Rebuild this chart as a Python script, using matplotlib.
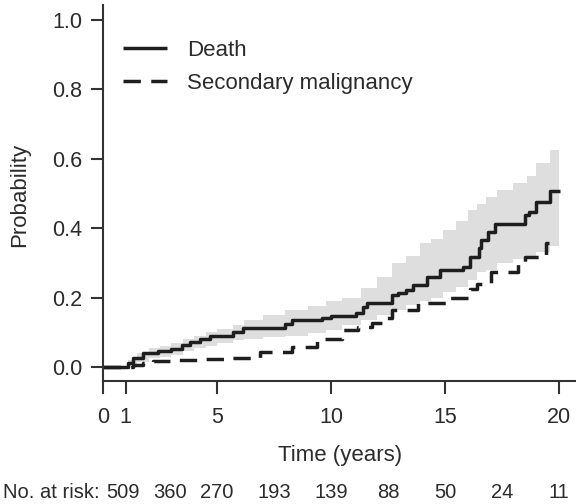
import matplotlib
matplotlib.use("Agg")
import matplotlib.pyplot as plt
import matplotlib.transforms as mtransforms
from matplotlib.ticker import FormatStrFormatter

plt.rcParams['font.family'] = ['Liberation Sans', 'DejaVu Sans']

# ---- data ----
death_t = [0, 1.1, 1.3, 1.75, 2.4, 3.0, 3.45, 3.8, 4.25, 4.7, 5.7, 6.15, 8.0, 8.3,
           9.6, 10.0, 11.1, 11.4, 11.6, 12.7, 12.95, 13.3, 13.6, 14.2, 14.8, 15.8,
           16.1, 16.5, 16.6, 16.9, 17.2, 18.5, 18.7, 19.0, 19.6, 20.05]
death_p = [0, 0.013, 0.026, 0.040, 0.046, 0.052, 0.063, 0.072, 0.080, 0.089, 0.100,
           0.112, 0.125, 0.135, 0.141, 0.147, 0.156, 0.173, 0.184, 0.207, 0.213,
           0.222, 0.236, 0.260, 0.280, 0.288, 0.317, 0.343, 0.366, 0.390, 0.413,
           0.438, 0.447, 0.476, 0.507, 0.507]

ci_t = [1.1, 1.5, 2.0, 2.5, 3.0, 3.5, 4.0, 4.5, 5.0, 5.7, 6.2, 7.0, 8.0, 9.0, 9.8,
        10.5, 11.3, 12.0, 12.7, 13.3, 13.9, 14.4, 14.9, 15.5, 16.0, 16.4, 16.8,
        17.3, 18.0, 18.6, 19.0, 19.6, 20.0]
ci_upper = [0.02, 0.04, 0.055, 0.06, 0.068, 0.08, 0.09, 0.10, 0.11, 0.121, 0.135,
            0.15, 0.165, 0.175, 0.19, 0.20, 0.228, 0.26, 0.30, 0.32, 0.357, 0.37,
            0.395, 0.42, 0.452, 0.47, 0.49, 0.51, 0.53, 0.55, 0.588, 0.625, 0.625]
ci_lower = [0.005, 0.015, 0.025, 0.03, 0.035, 0.045, 0.055, 0.06, 0.068, 0.078,
            0.082, 0.086, 0.09, 0.098, 0.107, 0.121, 0.135, 0.15, 0.165, 0.18,
            0.19, 0.20, 0.215, 0.23, 0.25, 0.274, 0.28, 0.30, 0.31, 0.314, 0.33,
            0.35, 0.35]

sec_t = [0, 1.3, 1.75, 2.2, 3.0, 4.3, 5.6, 6.9, 8.3, 9.4, 10.5, 11.2, 11.8, 12.3,
         12.7, 13.8, 15.2, 16.1, 16.4, 17.0, 18.2, 18.5, 19.3, 19.45, 19.55]
sec_p = [0, 0.006, 0.012, 0.016, 0.019, 0.023, 0.026, 0.043, 0.058, 0.080, 0.107,
         0.115, 0.127, 0.140, 0.164, 0.184, 0.199, 0.225, 0.240, 0.274, 0.300,
         0.317, 0.323, 0.357, 0.357]

series_labels = ["Death", "Secondary malignancy"]
x_ticks = [0, 1, 5, 10, 15, 20]
y_ticks = [0.0, 0.2, 0.4, 0.6, 0.8, 1.0]
risk_times = [0, 2.5, 5, 7.5, 10, 12.5, 15, 17.5, 20]
risk_counts = [509, 360, 270, 193, 139, 88, 50, 24, 11]

# ---- style ----
W, H = 576, 504
fig = plt.figure(figsize=(W / 100, H / 100), dpi=100)
ax = fig.add_axes([103 / W, 1 - 5 / H - 376 / H, 473 / W, 376 / H])

line_col = '#1e1e1e'
txt_col = '#2b2b2b'
band_col = '#dedede'

ax.fill_between(ci_t, ci_lower, ci_upper, step='post', color=band_col, lw=0)
ax.step(death_t, death_p, where='post', color=line_col, lw=2.5,
        label=series_labels[0], solid_capstyle='butt')
ax.step(sec_t, sec_p, where='post', color=line_col, lw=2.5,
        linestyle=(0, (5.0, 3.0)), label=series_labels[1])

ax.set_xlim(0, 20.75)
ax.set_ylim(-0.0403, 1.043)

for s in ['top', 'right']:
    ax.spines[s].set_visible(False)
for s in ['left', 'bottom']:
    ax.spines[s].set_linewidth(1.5)
    ax.spines[s].set_color('#333333')

ax.set_xticks(x_ticks)
ax.set_yticks(y_ticks)
ax.yaxis.set_major_formatter(FormatStrFormatter('%.1f'))
ax.tick_params(axis='both', length=9, width=1.5, color='#333333',
               labelsize=15.5, labelcolor=txt_col)
ax.tick_params(axis='y', pad=6)
ax.tick_params(axis='x', pad=10)

leg = ax.legend(loc='upper left', bbox_to_anchor=(123 / W, 1 - 40 / H),
                bbox_transform=fig.transFigure, frameon=False, fontsize=16,
                handlelength=2.0, handletextpad=0.9, labelspacing=0.52,
                borderaxespad=0, borderpad=0)
for t in leg.get_texts():
    t.set_color(txt_col)

fig.text(20 / W, 1 - 195 / H, "Probability", rotation=90, ha='center',
         va='center', fontsize=16, color=txt_col)
fig.text(340 / W, 1 - 456 / H, "Time (years)", ha='center', va='center',
         fontsize=16, color=txt_col)

trans = mtransforms.blended_transform_factory(ax.transData, fig.transFigure)
fig.text(100 / W, 1 - 492 / H, "No. at risk:", ha='right', va='center',
         fontsize=14.5, color=txt_col)
nudges = [20, 10, 0, 0, 0, 0, 0, 0, 0]
for t, n, dx in zip(risk_times, risk_counts, nudges):
    ax.annotate(str(n), xy=(t, 1 - 492 / H), xycoords=trans,
                xytext=(dx * 0.72, 0), textcoords='offset points',
                ha='center', va='center', fontsize=14.5, color=txt_col,
                annotation_clip=False)

fig.savefig("out.png", dpi=100)
